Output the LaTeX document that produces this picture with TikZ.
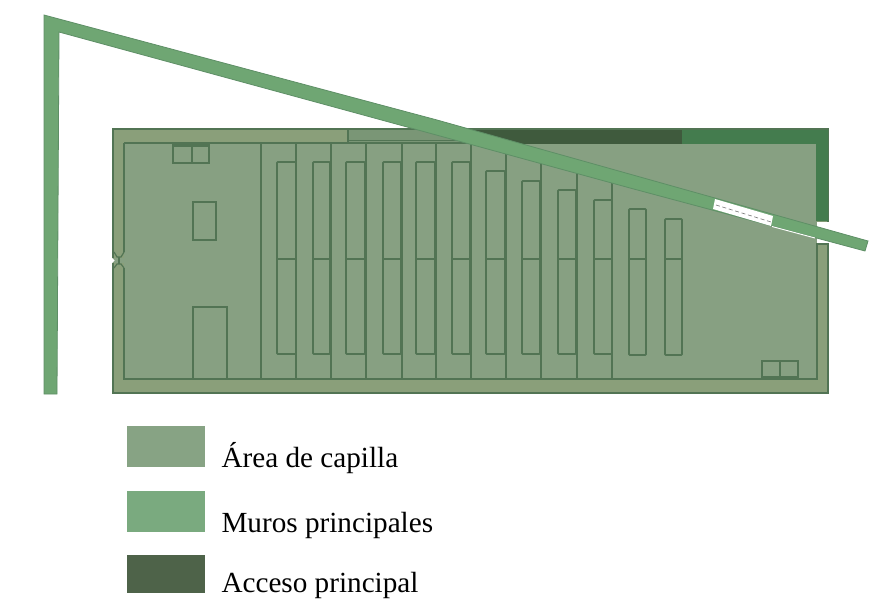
\documentclass[tikz,border=0pt]{standalone}
\usepackage{fontspec}
\setmainfont{Liberation Serif}
\definecolor{areacol}{HTML}{87A082}
\definecolor{rimcol}{HTML}{8A9F7A}
\definecolor{murocol}{HTML}{6FA673}
\definecolor{muroedge}{HTML}{5E8F66}
\definecolor{esquinacol}{HTML}{447C4E}
\definecolor{accesocol}{HTML}{3F5A3D}
\definecolor{franjacol}{HTML}{7A9676}
\definecolor{trazocol}{HTML}{527454}
\definecolor{leyuno}{HTML}{87A384}
\definecolor{leydos}{HTML}{7AAA7F}
\definecolor{leytres}{HTML}{4E6349}
\tikzset{every picture/.style={line width=0.75pt},
	trazo/.style={draw=trazocol,line width=1.2pt},
	banca/.style={draw=trazocol,line width=1.3pt,rounded corners=0.6pt},
	leyenda/.style={anchor=base west,inner sep=0pt,font=\fontsize{21.9}{24}\selectfont,text=black}}

\begin{document}
\begin{tikzpicture}[x=0.75pt,y=0.75pt,yscale=-1,xscale=1]
	\useasboundingbox (0,0) rectangle (884,599);
	% capilla
	\draw [draw=trazocol,fill=rimcol,line width=1.2pt] (113,129) -- (828,129) -- (828,393) -- (113,393) -- cycle;
	\fill [areacol] (124,143) -- (817,143) -- (817,379) -- (124,379) -- cycle;
	% franja superior y acceso
	\fill [franjacol] (348,130) -- (472,130) -- (472,143) -- (348,143) -- cycle;
	\fill [accesocol] (470,130) -- (683,130) -- (683,144) -- (470,144) -- cycle;
	\fill [esquinacol] (682,130) -- (828,130) -- (828,221) -- (816,221) -- (816,144) -- (682,144) -- cycle;
	\fill [white] (830,222) -- (817,222) -- (817,243) -- (830,243) -- cycle;
	\draw [trazo] (124,143) -- (472,143);
	\draw [trazo,line width=0.8pt] (348,140.5) -- (472,140.5);
	\draw [trazo] (348,130) -- (348,143);
	% limite interior
	\draw [trazo] (124,143) -- (124,252);
	\draw [trazo] (124,268) -- (124,379) -- (817,379) -- (817,244) -- (828,244);
	% puerta lateral
	\fill [areacol] (112,258) rectangle (124,263);
	\fill [white] (111,257) -- (114.5,260.5) -- (111,264) -- cycle;
	\draw [trazo,line width=0.9pt] (124,252) -- (121,257) -- (117,257) -- (114,252);
	\draw [trazo,line width=0.9pt] (124,268) -- (121,264) -- (117,264) -- (114,268);
	\draw [trazo,line width=0.9pt] (119,257) -- (119,264);
	% divisiones
	\draw [trazo] (261,143) -- (261,379);
	\draw [trazo] (296,143) -- (296,379);
	\draw [trazo] (331,143) -- (331,379);
	\draw [trazo] (366,143) -- (366,379);
	\draw [trazo] (402,143) -- (402,379);
	\draw [trazo] (436,143) -- (436,379);
	\draw [trazo] (471,143) -- (471,379);
	\draw [trazo] (506,150) -- (506,379);
	\draw [trazo] (541,160) -- (541,379);
	\draw [trazo] (577,170) -- (577,379);
	\draw [trazo] (612,180) -- (612,379);
	% bancas
	\draw [banca] (277,162) rectangle (296,354);
	\draw [banca] (313,162) rectangle (330,354);
	\draw [banca] (346,162) rectangle (365,354);
	\draw [banca] (383,162) rectangle (401,354);
	\draw [banca] (416,162) rectangle (435,354);
	\draw [banca] (452,162) rectangle (470,354);
	\draw [banca] (486,171) rectangle (505,354);
	\draw [banca] (522,181) rectangle (540,354);
	\draw [banca] (558,190) rectangle (576,354);
	\draw [banca] (594,200) rectangle (612,354);
	\draw [banca] (629,209) rectangle (646,355);
	\draw [banca] (665,219) rectangle (682,355);
	\draw [trazo] (277,259) -- (296,259);
	\draw [trazo] (313,259) -- (330,259);
	\draw [trazo] (346,259) -- (365,259);
	\draw [trazo] (383,259) -- (401,259);
	\draw [trazo] (416,259) -- (435,259);
	\draw [trazo] (452,259) -- (470,259);
	\draw [trazo] (486,259) -- (505,259);
	\draw [trazo] (522,259) -- (540,259);
	\draw [trazo] (558,259) -- (576,259);
	\draw [trazo] (594,259) -- (612,259);
	\draw [trazo] (629,259) -- (646,259);
	\draw [trazo] (665,259) -- (682,259);
	% mobiliario
	\draw [trazo] (173,145) rectangle (192,163);
	\draw [trazo] (192,145) rectangle (209,163);
	\draw [trazo,line width=2pt] (173,146) -- (209,146);
	\draw [trazo] (193,202) rectangle (216,240);
	\draw [trazo] (193,379) -- (193,307) -- (227,307) -- (227,379);
	\draw [trazo] (762,361) rectangle (780,377);
	\draw [trazo] (780,361) rectangle (798,377);
	\draw [trazo,line width=2pt] (762,377) -- (798,377);
	% muros
	\fill [murocol,draw=muroedge,line width=0.6pt] (44,15) -- (437,120) -- (868,241) -- (865,251) -- (630,188) -- (387,121.5) -- (59,32) -- (57,394) -- (44,394) -- cycle;
	\fill [white] (715,199) -- (773,216) -- (771,226) -- (713,209) -- cycle;
	\draw [gray,densely dashed,line width=0.5pt] (716,205) -- (771,222);
	\draw [white,line width=0.7pt] (772,226.5) -- (815,238);
	% leyenda
	\fill [leyuno] (127,426) rectangle (205,467);
	\fill [leydos] (127,491) rectangle (205,532);
	\fill [leytres] (127,555) rectangle (205,593);
	\node [leyenda] (area) at (221,467) {Área de capilla};
	\node [leyenda] (muros) at (221,532) {Muros principales};
	\node [leyenda] (acceso) at (221,592) {Acceso principal};
\end{tikzpicture}
\end{document}
